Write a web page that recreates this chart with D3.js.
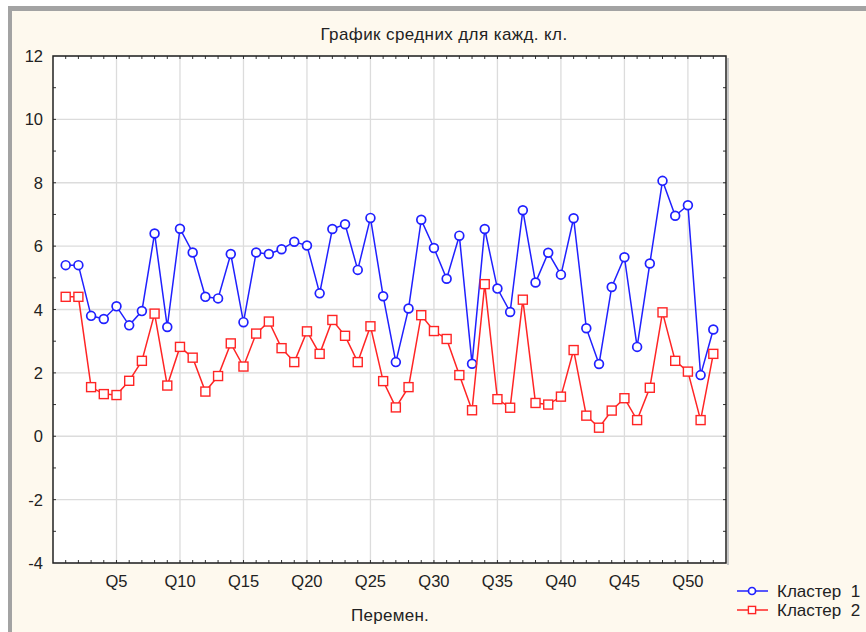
<!DOCTYPE html>
<html>
<head>
<meta charset="utf-8">
<script src="https://cdn.jsdelivr.net/npm/d3@7"></script>
<style>
  body { margin: 0; background: #fff; }
  svg { display: block; font-family: Arial, "Liberation Sans", sans-serif; }
</style>
</head>
<body>
<div id="chart"></div>
<script>
// variables Q1..Q52
const vars = d3.range(1, 53).map(i => 'Q' + i);
const cluster1 = [5.4, 5.4, 3.8, 3.7, 4.1, 3.5, 3.95, 6.4, 3.45, 6.55,
  5.8, 4.4, 4.35, 5.75, 3.6, 5.8, 5.75, 5.9, 6.14, 6.02,
  4.51, 6.54, 6.69, 5.25, 6.89, 4.42, 2.34, 4.03, 6.83, 5.94,
  4.97, 6.33, 2.29, 6.54, 4.66, 3.92, 7.13, 4.85, 5.79, 5.1,
  6.88, 3.41, 2.28, 4.71, 5.65, 2.82, 5.45, 8.06, 6.96, 7.29,
  1.93, 3.37];
const cluster2 = [4.4, 4.4, 1.55, 1.33, 1.3, 1.75, 2.38, 3.87, 1.6, 2.82,
  2.48, 1.41, 1.9, 2.93, 2.2, 3.24, 3.62, 2.78, 2.34, 3.31,
  2.6, 3.67, 3.17, 2.34, 3.47, 1.74, 0.91, 1.55, 3.82, 3.32,
  3.07, 1.93, 0.82, 4.8, 1.17, 0.9, 4.31, 1.05, 1.0, 1.25,
  2.72, 0.65, 0.27, 0.81, 1.2, 0.51, 1.53, 3.91, 2.38, 2.04,
  0.51, 2.6];
const yTicks = [-4, -2, 0, 2, 4, 6, 8, 10, 12];
const xTickLabels = ['Q5', 'Q10', 'Q15', 'Q20', 'Q25', 'Q30', 'Q35', 'Q40', 'Q45', 'Q50'];
const legendNames = ['Кластер  1', 'Кластер  2'];

const W = 866, H = 632;
const L = 53, T = 56, R = 726, B = 563;
const FS = 16.5;

const svg = d3.select('#chart').append('svg')
  .attr('width', W).attr('height', H);

// window frame + cream background
svg.append('rect').attr('x', 0).attr('y', 0).attr('width', W).attr('height', H).attr('fill', '#fff');
svg.append('rect').attr('x', 8).attr('y', 6).attr('width', W - 8).attr('height', H - 6).attr('fill', '#a3a3a3');
svg.append('rect').attr('x', 12).attr('y', 11).attr('width', W - 12).attr('height', H - 11).attr('fill', '#fef9ee');

const x = d3.scaleLinear().domain([0, 53]).range([L, R]);
const y = d3.scaleLinear().domain([-4, 12]).range([B, T]);

// plot background
svg.append('rect').attr('x', L).attr('y', T).attr('width', R - L).attr('height', B - T).attr('fill', '#fff');

// grid
const xGrid = xTickLabels.map(s => +s.slice(1));
svg.append('g').selectAll('line').data(xGrid).join('line')
  .attr('x1', d => x(d)).attr('x2', d => x(d)).attr('y1', T).attr('y2', B)
  .attr('stroke', '#dcdcdc').attr('stroke-width', 1.3);
svg.append('g').selectAll('line').data(yTicks).join('line')
  .attr('x1', L).attr('x2', R).attr('y1', d => y(d)).attr('y2', d => y(d))
  .attr('stroke', '#dcdcdc').attr('stroke-width', 1.3);

// minor ticks inside the frame
const tk = svg.append('g').attr('stroke', '#333').attr('stroke-width', 1);
d3.range(1, 53).forEach(i => {
  tk.append('line').attr('x1', x(i)).attr('x2', x(i)).attr('y1', T).attr('y2', T + 3);
  tk.append('line').attr('x1', x(i)).attr('x2', x(i)).attr('y1', B).attr('y2', B - 3);
});
d3.range(-3, 12).forEach(v => {
  tk.append('line').attr('x1', L).attr('x2', L + 3).attr('y1', y(v)).attr('y2', y(v));
  tk.append('line').attr('x1', R).attr('x2', R - 3).attr('y1', y(v)).attr('y2', y(v));
});

// frame
svg.append('rect').attr('x', R + 1).attr('y', T + 2).attr('width', 2).attr('height', B - T).attr('fill', '#c8c8c8');
svg.append('rect').attr('x', L).attr('y', T).attr('width', R - L).attr('height', B - T)
  .attr('fill', 'none').attr('stroke', '#222').attr('stroke-width', 1.5);

// axis labels
svg.append('g').selectAll('text').data(yTicks).join('text')
  .attr('x', 43).attr('y', d => y(d) + 6)
  .attr('text-anchor', 'end').attr('font-size', FS).attr('fill', '#222')
  .text(d => d);
svg.append('g').selectAll('text').data(xTickLabels).join('text')
  .attr('x', d => x(+d.slice(1))).attr('y', 587)
  .attr('text-anchor', 'middle').attr('font-size', FS).attr('fill', '#222')
  .text(d => d);

svg.append('text').attr('x', 444).attr('y', 40).attr('text-anchor', 'middle')
  .attr('font-size', 17).attr('letter-spacing', 0.4).attr('fill', '#222')
  .text('График средних для кажд. кл.');
svg.append('text').attr('x', 390).attr('y', 621).attr('text-anchor', 'middle')
  .attr('font-size', 17).attr('letter-spacing', 0.3).attr('fill', '#222').text('Перемен.');

// series
const series = [
  {name: legendNames[0], values: cluster1, color: '#2020ff', shape: 'circle'},
  {name: legendNames[1], values: cluster2, color: '#ff2525', shape: 'square'}
];
const line = d3.line().x((d, i) => x(i + 1)).y(d => y(d));

function marker(g, shape, color, k) {
  if (shape === 'circle') {
    g.append('circle').attr('r', 4.4 * k).attr('fill', '#fff').attr('stroke', color).attr('stroke-width', 1.7);
  } else {
    const s = 9 * k;
    g.append('rect').attr('x', -s / 2).attr('y', -s / 2).attr('width', s).attr('height', s)
      .attr('fill', '#fff').attr('stroke', color).attr('stroke-width', 1.4);
  }
}

series.forEach(s => {
  svg.append('path').datum(s.values).attr('d', line)
    .attr('fill', 'none').attr('stroke', s.color).attr('stroke-width', 1.5);
  svg.append('g').selectAll('g').data(s.values).join('g')
    .attr('transform', (d, i) => `translate(${x(i + 1)},${y(d)})`)
    .each(function() { marker(d3.select(this), s.shape, s.color, 1); });
});

// legend
series.forEach((s, i) => {
  const ly = 591 + i * 19;
  const g = svg.append('g').attr('transform', `translate(752,${ly})`);
  g.append('line').attr('x1', -15).attr('x2', 16).attr('stroke', s.color).attr('stroke-width', 1.5);
  marker(g, s.shape, s.color, 0.8);
  svg.append('text').attr('x', 777).attr('y', ly + 6).attr('font-size', 17).attr('fill', '#222')
    .attr('xml:space', 'preserve').style('white-space', 'pre').text(s.name);
});
</script>
</body>
</html>
